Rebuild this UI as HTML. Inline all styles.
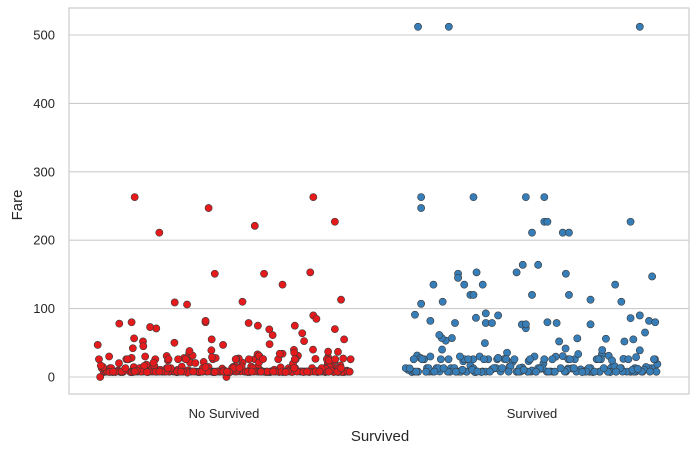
<!DOCTYPE html>
<html><head><meta charset="utf-8"><style>
body{margin:0;background:#fff;}
svg{display:block;font-family:"Liberation Sans","DejaVu Sans",sans-serif;}
</style></head><body>
<svg id="chart" width="699" height="452">
<rect x="69" y="8" width="620" height="386" fill="#fff" stroke="#cccccc" stroke-width="1.2"/>
<g id="grid"></g>
<g id="yticks"></g>
<g id="xticks"></g>
<g id="pts"></g>
<text x="380" y="441" text-anchor="middle" font-size="15" fill="#262626">Survived</text>
<text transform="translate(22,205) rotate(-90)" text-anchor="middle" font-size="15" fill="#262626">Fare</text>
</svg>
<script>
const categories=["No Survived","Survived"];
const yTicks=[0,100,200,300,400,500];
const colors=["#e41a1c","#377eb8"];
const nsOutX=[-0.29,-0.21,-0.05,0.10,0.29,0.36,-0.03,0.13,0.28,0.19,0.06,-0.16,-0.12,0.08,0.11,-0.34,-0.30,-0.24,-0.06,-0.06,0.23,0.29,0.30,0.38,0.36,0.39];
const nsOutY=[263,211,247,221,263,227,151,151,153,135,110,109,106,79,75,78,80,73,80,82,75,90,85,113,70,55];
const sOutX=[-0.37,-0.27,0.35,-0.36,-0.36,-0.19,-0.02,0.04,0.04,0.05,0.32,0.00,0.10,0.12,-0.24,-0.24,-0.18,-0.05,0.02,-0.03,0.11,0.39,-0.32,-0.22,-0.16,0.27,0.29,0.19,-0.36,-0.29,-0.20,-0.19,0.12,0.00,-0.38,-0.15,-0.11,-0.33,-0.25,-0.15,-0.13,0.05,-0.02,0.19,0.35,0.38,0.40,0.32];
const sOutY=[512,512,512,263,247,263,263,263,227,227,227,211,211,211,151,145,153,153,164,164,151,147,135,135,135,135,110,113,107,110,120,120,120,120,91,93,90,82,79,79,79,80,77,77,90,82,80,86];
const jitter=[-0.39,-0.35,-0.31,-0.28,-0.24,-0.20,-0.17,-0.13,-0.09,-0.05,-0.02,0.02,0.06,0.10,0.13,0.17,0.21,0.24,0.28,0.32,0.35,0.39];
const rowShift=[0,0.017,-0.012,0.009,-0.02,0.014,0.006,-0.007,0.021,-0.016,0.011,-0.003,0.018,-0.01,0.004,-0.019,0.008,-0.014,0.013,-0.005];
const nsRows=[
[7.25,8.05,26,7.9,13,7.75,10.5,27.7,7.9,14.5,8.05,7.25,21,26,7.8,9.5,13,31,7.9,8.05,15.5,7.25],
[30,7.9,14.4,52,26,8.66,7.05,34.4,9,7.75,46.9,16.1,7.23,29.1,69.6,7.9,39.7,8.05,26.55,20.5,13,7.9],
[0,7.25,11.1,56.5,18,8.05,24.1,7.85,31.3,10.5,7.9,0,27,15.2,9.8,61.2,7.75,35.5,8.05,7.9,29,16.7],
[7.9,20.2,7.25,13,8.05,7.9,50,26,7.75,39,8.66,14.5,7.9,33,8.05,7.23,12.5,7.9,40,7.25,24,9.2],
[46.9,13,7.9,27.9,8.05,71,7.8,10.5,21.1,7.75,55,7.9,26.3,8.05,15.1,7.25,34,9.5,52.5,7.9,13.5,36.8],
[8.05,7.25,42,7.9,16,30.7,7.75,9.8,7.9,26,12.3,8.05,7.9,21.7,7.25,14.1,7.9,64,8.05,25.9,7.8,7.9],
[7.75,9.5,7.25,13,7.9,8.05,7.9,26,7.25,8.05,7.75,13,7.9,8.05,7.25,26,7.9,8.05,13,7.75,7.25,8.05],
[13,7.9,26,8.05,7.25,10.5,7.75,15.2,8.05,7.9,27.7,7.25,8.05,13,7.9,10.5,7.75,26,8.05,7.9,14.5,7.25],
[8.05,7.25,7.9,16.1,7.75,8.05,26,7.9,13,7.25,9.5,7.9,26,7.8,8.05,7.25,13,7.9,8.66,24.15,7.25,26],
[26,13,8.05,7.25,30,7.9,13,7.75,8.05,22,7.25,7.9,10.5,7.25,31,8.05,7.9,19.5,7.75,7.25,8.05,13],
[7.9,8.05,7.25,7.75,21,7.9,8.05,6.5,7.25,29,7.9,13,8.05,7.75,7.9,34,7.25,8.05,7.9,11.5,26,7.75],
[14.5,7.25,26,9,7.9,8.05,13,7.75,20.5,7.9,8.05,7.25,15.5,7.9,26.25,7.75,8.05,7.9,7.25,13,9.5,27],
[7.25,7.9,8.05,45,7.75,13,7.9,38,8.05,7.25,7.9,26,7.75,8.05,48,7.9,13,7.25,8.05,37,7.9,7.75],
[16.7,7.9,13,8.05,7.25,7.9,26,7.75,8.05,14.4,7.25,7.9,13,8.05,7.75,7.9,7.25,26,7.9,8.05,7.75,13]];
const sRows=[
[7.25,26,13,53.1,7.9,16.7,30,11.1,26.3,7.75,71.3,13,8.05,30.5,12.5,7.9,26,55.9,10.5,7.75,39,13],
[31.4,7.9,57,13,23,7.23,49.5,26,15.2,76.7,7.9,19.5,29.7,12.3,56.5,7.75,33,13.5,26.55,7.9,65,18.75],
[10.5,27.7,7.9,40.1,13,7.75,86.5,26,8.05,22.4,13.8,30,7.9,52,26,11.1,7.25,39.4,15.9,7.9,29.1,13],
[7.9,13,61.4,26,7.75,25.9,8.05,13,35.5,7.9,23.3,12,7.7,41.6,26,10.5,7.9,31,13,55,7.8,26],
[13,7.75,30,8.05,56.9,26,12.5,7.9,27.9,15.5,13,9.5,26,78.9,7.9,33.5,13,7.75,24.2,51.9,7.9,14.5],
[7.9,13,26,7.75,10.5,7.25,26,13,7.9,8.05,26,13,7.75,10.5,7.9,13,26,7.25,7.9,13,10.5,7.75],
[26,7.75,13,7.9,30,10.5,7.25,13,26,7.9,7.75,12.35,26,8.05,13,7.9,26.25,7.75,13,10.5,7.9,26],
[12.5,26,7.9,13,7.75,26,8.05,7.9,13,26,10.5,7.75,7.9,13,26,7.25,7.9,13,7.75,26,12,7.9]];

const NS="http://www.w3.org/2000/svg";
function xScale(cat,off){return 224+(cat+off)*308;}
function yScale(v){return 377-v*0.684;}
const grid=document.getElementById('grid'),yt=document.getElementById('yticks'),xt=document.getElementById('xticks'),pts=document.getElementById('pts');
yTicks.forEach(t=>{
  const l=document.createElementNS(NS,'line');
  l.setAttribute('x1',69);l.setAttribute('x2',689);l.setAttribute('y1',yScale(t));l.setAttribute('y2',yScale(t));
  l.setAttribute('stroke','#cccccc');l.setAttribute('stroke-width','1.1');
  
  
  grid.appendChild(l);
  const tx=document.createElementNS(NS,'text');
  tx.setAttribute('x',55);tx.setAttribute('y',yScale(t)+4.5);tx.setAttribute('text-anchor','end');tx.setAttribute('font-size','13');tx.setAttribute('fill','#262626');
  tx.textContent=t;
  
  
  yt.appendChild(tx);
});
categories.forEach((c,i)=>{
  const tx=document.createElementNS(NS,'text');
  tx.setAttribute('x',xScale(i,0));tx.setAttribute('y',418);tx.setAttribute('text-anchor','middle');tx.setAttribute('font-size','13');tx.setAttribute('fill','#262626');
  tx.textContent=c;
  
  
  xt.appendChild(tx);
});
function dot(cat,off,v){
  const c=document.createElementNS(NS,'circle');
  c.setAttribute('cx',xScale(cat,off));c.setAttribute('cy',yScale(v));c.setAttribute('r',3.6);
  c.setAttribute('fill',colors[cat]);c.setAttribute('stroke','#3a3a3a');c.setAttribute('stroke-width','0.6');
  
  
  pts.appendChild(c);
}
[nsRows,sRows].forEach((rows,cat)=>{
  rows.forEach((r,ri)=>r.forEach((v,j)=>dot(cat,jitter[j]+rowShift[ri],v)));
});
nsOutX.forEach((o,i)=>dot(0,o,nsOutY[i]));
sOutX.forEach((o,i)=>dot(1,o,sOutY[i]));
</script>
</body></html>
